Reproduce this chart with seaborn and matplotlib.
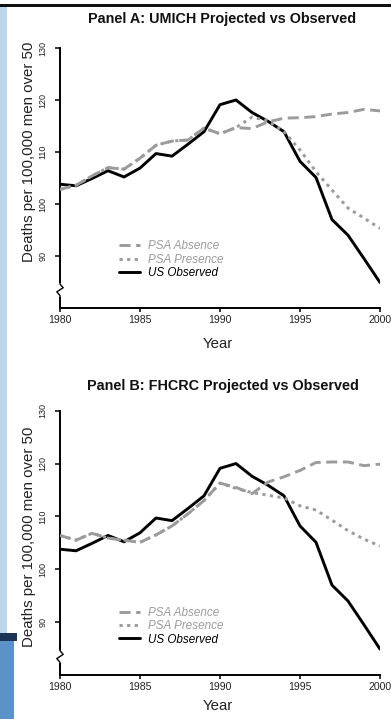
import matplotlib
matplotlib.use("Agg")
import matplotlib.pyplot as plt
import matplotlib.transforms as mtransforms
from matplotlib.patches import Rectangle
from matplotlib.lines import Line2D
import seaborn as sns
import pandas as pd

sns.set_theme(style="white")
plt.rcParams['font.family'] = ['Liberation Sans', 'DejaVu Sans']

years = list(range(1980, 2001))

us_observed = [103.8, 103.5, 104.9, 106.4, 105.2, 106.9, 109.7, 109.2, 111.5, 113.9,
               119.1, 120.0, 117.6, 115.9, 113.9, 108.2, 105.1, 97.0, 94.0, 89.5, 84.9]

a_absence = [102.8, 103.6, 105.4, 107.0, 106.7, 108.8, 111.3, 112.1, 112.3, 114.6,
             113.5, 114.7, 114.5, 115.8, 116.5, 116.6, 116.8, 117.3, 117.6, 118.2, 117.9]
a_presence = [102.8, 103.6, 105.4, 107.0, 106.7, 108.8, 111.3, 112.1, 112.3, 114.6,
              113.5, 114.7, 116.7, 116.0, 113.9, 110.4, 106.2, 102.7, 99.2, 97.3, 95.3]

b_absence = [106.4, 105.5, 106.8, 105.9, 105.5, 105.1, 106.5, 108.2, 110.5, 113.0,
             116.3, 115.5, 114.3, 116.5, 117.5, 118.7, 120.2, 120.3, 120.3, 119.6, 119.9]
b_presence = [106.4, 105.5, 106.8, 105.9, 105.5, 105.1, 106.5, 108.2, 110.5, 113.0,
              116.3, 115.3, 114.5, 114.0, 113.5, 112.0, 111.2, 109.3, 107.3, 105.7, 104.4]

titles = ["Panel A: UMICH Projected vs Observed", "Panel B: FHCRC Projected vs Observed"]
series_labels = ["PSA Absence", "PSA Presence", "US Observed"]
x_ticks = [1980, 1985, 1990, 1995, 2000]
y_ticks = [90, 100, 110, 120, 130]

GRAY = "#9b9b9b"
W, H = 391, 719
fig = plt.figure(figsize=(W / 100, H / 100), dpi=100)
fig.patch.set_facecolor("white")

# slide decorations
def rect_px(x0, y0, x1, y1, color):
    fig.add_artist(Rectangle((x0 / W, 1 - y1 / H), (x1 - x0) / W, (y1 - y0) / H,
                             transform=fig.transFigure, color=color, lw=0, zorder=0))

rect_px(0, 4, W, 7, "#111111")
rect_px(0, 7, 7, 633, "#bcd6ec")
rect_px(0, 633, 17, 641, "#1c3557")
rect_px(0, 641, 14, H, "#5b93c9")

panels = [
    dict(top=48, bottom=308, absence=a_absence, presence=a_presence, ylab_y=0.601,
         xlab_y=-0.112, title_y=18.5),
    dict(top=410.7, bottom=675, absence=b_absence, presence=b_presence, ylab_y=0.522,
         xlab_y=-0.092, title_y=386),
]

long_dash = (0, (3.8, 1.9))
short_dash = (0, (1.1, 1.5))

for i, p in enumerate(panels):
    left, right = 60, 380
    ax = fig.add_axes([left / W, 1 - p["bottom"] / H, (right - left) / W,
                       (p["bottom"] - p["top"]) / H])
    ax.set_facecolor("none")
    df = pd.DataFrame({"Year": years, "obs": us_observed,
                       "abs": p["absence"], "pre": p["presence"]})
    sns.lineplot(data=df, x="Year", y="obs", ax=ax, color="black", lw=2.1,
                 label=series_labels[2], zorder=3)
    sns.lineplot(data=df, x="Year", y="abs", ax=ax, color=GRAY, lw=2.1,
                 linestyle=long_dash, label=series_labels[0], zorder=4)
    sns.lineplot(data=df, x="Year", y="pre", ax=ax, color=GRAY, lw=2.1,
                 linestyle=short_dash, label=series_labels[1], zorder=4)

    ax.set_xlim(1980, 2000)
    ax.set_ylim(80, 130)
    ax.set_xticks(x_ticks)
    ax.set_xticklabels([str(t) for t in x_ticks])
    ax.set_yticks(y_ticks)
    ax.set_yticklabels([str(t) for t in y_ticks])
    for s in ["top", "right"]:
        ax.spines[s].set_visible(False)
    for s in ["left", "bottom"]:
        ax.spines[s].set_color("black")
        ax.spines[s].set_linewidth(1.4)
    ax.tick_params(axis="x", direction="out", length=3, width=1.1, color="black",
                   pad=2.2, labelsize=7.6, labelcolor="#222222", bottom=True)
    ax.tick_params(axis="y", direction="out", length=3.6, width=1.1, color="black",
                   pad=5.5, labelsize=6.5, labelcolor="#222222", labelrotation=90, left=True)
    for lab in ax.get_yticklabels():
        lab.set_va("center")

    # axis break mark on the y axis
    tr = mtransforms.blended_transform_factory(ax.transAxes, ax.transData)
    ax.add_patch(Rectangle((-0.02, 82.2), 0.04, 2.6, transform=tr, color="white",
                           zorder=5, clip_on=False, lw=0))
    ax.add_line(Line2D([0, 0, -0.010, 0.010, 0, 0], [81.6, 82.4, 83.1, 83.9, 84.6, 85.4],
                       transform=tr, color="black", lw=1.0, zorder=6, clip_on=False))

    ax.set_xlabel("Year", fontsize=10.8, color="#222222")
    ax.xaxis.set_label_coords(0.494, p["xlab_y"])
    ax.xaxis.label.set_va("top")
    ax.set_ylabel("Deaths per 100,000 men over 50", fontsize=10.8, color="#222222")
    ax.yaxis.set_label_coords(-0.075, p["ylab_y"])

    fig.text(222.5 / W, 1 - p["title_y"] / H, titles[i], ha="center", va="center",
             fontsize=10.4, fontweight="bold", color="#111111")

    handles, labels = ax.get_legend_handles_labels()
    order = [labels.index(l) for l in series_labels]
    leg = ax.legend([handles[k] for k in order], [labels[k] for k in order],
                    loc="center left", bbox_to_anchor=(0.185, 0.185), frameon=False,
                    fontsize=8.4, handlelength=1.75, handletextpad=0.7,
                    labelspacing=0.12, borderpad=0, borderaxespad=0)
    for txt, col in zip(leg.get_texts(), [GRAY, GRAY, "black"]):
        txt.set_color(col)
        txt.set_fontstyle("italic")

fig.savefig("out.png", dpi=100, facecolor="white")
